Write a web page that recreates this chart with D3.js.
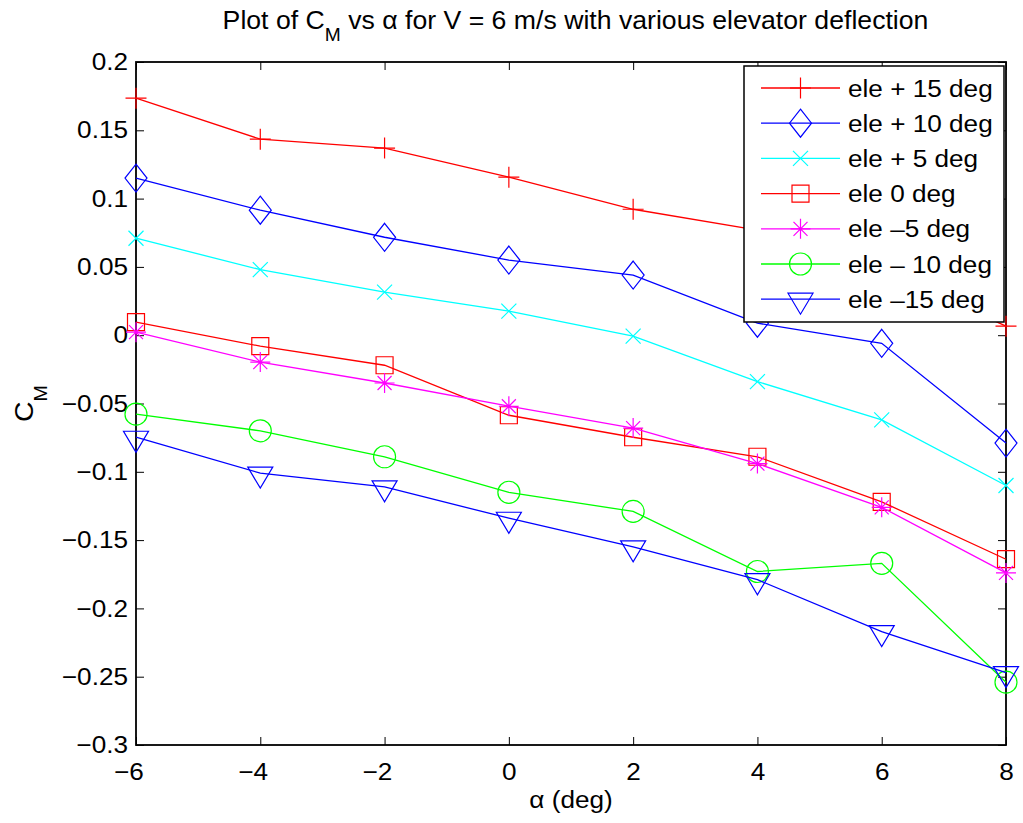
<!DOCTYPE html>
<html><head><meta charset="utf-8">
<script src="https://cdn.jsdelivr.net/npm/d3@7"></script>
<style>
body{margin:0;background:#fff}
text{font-family:"Liberation Sans",Arial,Helvetica,sans-serif;fill:#000}
</style>
</head><body>
<svg id="chart" width="1023" height="823"></svg>
<script>
// ---- data ----
const alpha = [-6, -4, -2, 0, 2, 4, 6, 8];
const elePlus15  = [0.1735, 0.1435, 0.137, 0.1157, 0.0922, 0.077, 0.048, 0.0066];
const elePlus10  = [0.115, 0.0915, 0.0717, 0.055, 0.044, 0.0088, -0.0059, -0.079];
const elePlus5   = [0.071, 0.048, 0.0315, 0.0176, -0.0007, -0.034, -0.062, -0.11];
const ele0       = [0.0095, -0.008, -0.022, -0.0586, -0.0747, -0.089, -0.122, -0.164];
const eleMinus5  = [0.0022, -0.0197, -0.035, -0.052, -0.068, -0.094, -0.126, -0.174];
const eleMinus10 = [-0.0578, -0.070, -0.089, -0.115, -0.129, -0.173, -0.167, -0.254];
const eleMinus15 = [-0.0747, -0.101, -0.111, -0.134, -0.155, -0.179, -0.217, -0.247];
const seriesLabels = ["ele + 15 deg", "ele + 10 deg", "ele + 5 deg", "ele 0 deg", "ele \u20135 deg", "ele \u2013 10 deg", "ele \u201315 deg"];
const seriesColors = ["#ff0000", "#0000ff", "#00ffff", "#ff0000", "#ff00ff", "#00ff00", "#0000ff"];
const seriesMarkers = ["plus", "diamond", "x", "square", "star", "circle", "triangle"];
const xTicks = [-6, -4, -2, 0, 2, 4, 6, 8];
const yTicks = [0.2, 0.15, 0.1, 0.05, 0, -0.05, -0.1, -0.15, -0.2, -0.25, -0.3];

const allSeries = [elePlus15, elePlus10, elePlus5, ele0, eleMinus5, eleMinus10, eleMinus15];

// ---- layout ----
const L = 136, R = 1006, T = 62, B = 745;
const SX = 1.09; // horizontal stretch of glyphs
const FS = "24px";
const svg = d3.select("#chart");
const x = d3.scaleLinear().domain([-6, 8]).range([L, R]);
const y = d3.scaleLinear().domain([-0.3, 0.2]).range([B, T]);

function fmtNum(v){
  const s = d3.format("~g")(+v.toFixed(3));
  return s.replace("-", "\u2212");
}
function stretch(sel, sx){
  sel.each(function(){
    const t = d3.select(this);
    const x0 = +t.attr("x") || 0, y0 = +t.attr("y") || 0;
    t.attr("x", 0).attr("y", 0).attr("transform", `translate(${x0},${y0}) scale(${sx},1)`);
  });
}

// axes (ticks inside, box)
const tickLen = 8;
const gx = svg.append("g").attr("transform", `translate(0,${B})`)
  .call(d3.axisBottom(x).tickValues(xTicks).tickSizeInner(-tickLen).tickSizeOuter(0).tickFormat(fmtNum));
const gxt = svg.append("g").attr("transform", `translate(0,${T})`)
  .call(d3.axisTop(x).tickValues(xTicks).tickSizeInner(-tickLen).tickSizeOuter(0).tickFormat(""));
const gy = svg.append("g").attr("transform", `translate(${L},0)`)
  .call(d3.axisLeft(y).tickValues(yTicks).tickSizeInner(-tickLen).tickSizeOuter(0).tickFormat(fmtNum));
const gyr = svg.append("g").attr("transform", `translate(${R},0)`)
  .call(d3.axisRight(y).tickValues(yTicks).tickSizeInner(-tickLen).tickSizeOuter(0).tickFormat(""));
[gx, gxt, gy, gyr].forEach(g => {
  g.select(".domain").remove();
  g.selectAll(".tick line").attr("stroke", "#000").attr("stroke-width", 1);
  g.selectAll(".tick text").style("font-size", FS).attr("fill", "#000");
});
// x tick labels: baseline at 780, digits centred on tick
gx.selectAll(".tick text").each(function(d){
  const t = d3.select(this);
  t.attr("dy", null).attr("y", 780 - B);
  let shift = 0;
  if (d < 0) {
    const full = this.getComputedTextLength();
    const tmp = d3.select(this.parentNode).append("text").style("font-size", FS).text(fmtNum(-d));
    const digits = tmp.node().getComputedTextLength();
    tmp.remove();
    shift = -(full - digits) / 2 * SX;
  }
  t.attr("x", shift);
});
stretch(gx.selectAll(".tick text"), SX);
gy.selectAll(".tick text").attr("x", -8);
stretch(gy.selectAll(".tick text"), SX);

svg.append("rect").attr("x", L).attr("y", T).attr("width", R - L).attr("height", B - T)
  .attr("fill", "none").attr("stroke", "#000").attr("stroke-width", 1.8);

// markers
function drawMarker(g, type, cx, cy, color){
  const p = g.append("path").attr("fill", "none").attr("stroke", color).attr("stroke-width", 1.2);
  let d = "";
  if (type === "plus") { const s = 10.5; d = `M${cx-s},${cy}H${cx+s}M${cx},${cy-s}V${cy+s}`; }
  else if (type === "diamond") { const w = 11, h = 14; d = `M${cx},${cy-h}L${cx+w},${cy}L${cx},${cy+h}L${cx-w},${cy}Z`; }
  else if (type === "x") { const s = 7.5; d = `M${cx-s},${cy-s}L${cx+s},${cy+s}M${cx-s},${cy+s}L${cx+s},${cy-s}`; }
  else if (type === "square") { const s = 8.5; d = `M${cx-s},${cy-s}H${cx+s}V${cy+s}H${cx-s}Z`; }
  else if (type === "star") { const s = 10, t = 7; d = `M${cx-s},${cy}H${cx+s}M${cx},${cy-s}V${cy+s}M${cx-t},${cy-t}L${cx+t},${cy+t}M${cx-t},${cy+t}L${cx+t},${cy-t}`; }
  else if (type === "circle") { const r = 11; d = `M${cx-r},${cy}A${r},${r} 0 1,0 ${cx+r},${cy}A${r},${r} 0 1,0 ${cx-r},${cy}Z`; }
  else if (type === "triangle") { const w = 12.5; d = `M${cx-w},${cy-6}H${cx+w}L${cx},${cy+15}Z`; }
  p.attr("d", d);
}

const line = d3.line().x((d, i) => x(alpha[i])).y(d => y(d));
const plotG = svg.append("g");
allSeries.forEach((vals, si) => {
  const g = plotG.append("g");
  g.append("path").datum(vals).attr("d", line).attr("fill", "none")
    .attr("stroke", seriesColors[si]).attr("stroke-width", 1.3);
  vals.forEach((v, i) => drawMarker(g, seriesMarkers[si], x(alpha[i]), y(v), seriesColors[si]));
});

// legend
const lg = svg.append("g");
const lgX = 744, lgY = 66, lgW = 260, lgH = 256;
lg.append("rect").attr("x", lgX).attr("y", lgY).attr("width", lgW).attr("height", lgH)
  .attr("fill", "#fff").attr("stroke", "#000").attr("stroke-width", 1.5);
seriesLabels.forEach((lab, i) => {
  const yy = 88 + i * 35.2;
  lg.append("line").attr("x1", 761).attr("x2", 840).attr("y1", yy).attr("y2", yy)
    .attr("stroke", seriesColors[i]).attr("stroke-width", 1.3);
  drawMarker(lg, seriesMarkers[i], 800.5, yy, seriesColors[i]);
  const t = lg.append("text").attr("x", 848).attr("y", yy + 8.5)
    .style("font-size", FS).text(lab);
  stretch(t, SX);
});

// title
const title = svg.append("text").attr("x", 0).attr("y", 0).attr("text-anchor", "middle").style("font-size", "25px");
title.append("tspan").text("Plot of C");
title.append("tspan").attr("dy", 12).style("font-size", "18px").text("M");
title.append("tspan").attr("dy", -12).text(" vs \u03b1 for V = 6 m/s with various elevator deflection");
const tw = title.node().getBBox().width;
title.attr("transform", `translate(575.5,29) scale(${706 / tw},1)`);

// x label
const xl = svg.append("text").attr("x", 571).attr("y", 808).attr("text-anchor", "middle").style("font-size", FS).text("\u03b1 (deg)");
stretch(xl, SX);

// y label
const yl = svg.append("text").attr("transform", `translate(33,${(T + B) / 2}) rotate(-90) scale(${SX},1)`).attr("text-anchor", "middle").style("font-size", "26px");
yl.append("tspan").text("C");
yl.append("tspan").attr("dy", 14).style("font-size", "18px").text("M");
</script>
</body></html>
